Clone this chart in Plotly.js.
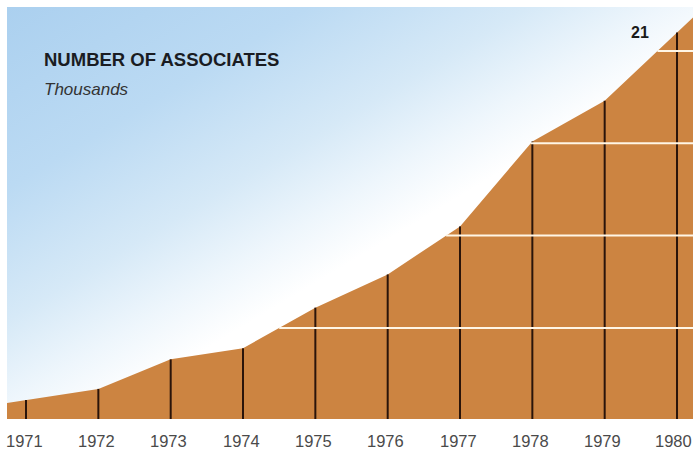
<!DOCTYPE html>
<html>
<head>
<meta charset="utf-8">
<script src="https://cdn.plot.ly/plotly-3.0.1.min.js"></script>
<style>
  html, body { margin: 0; padding: 0; background: #ffffff; }
  #wrap { position: relative; width: 693px; height: 451px; overflow: hidden; }
  #bg { position: absolute; left: 7px; top: 7px; width: 686px; height: 412px;
        background: linear-gradient(to bottom right, #abd0ef 0%, #bbdaf3 22%, #d6e9f7 38%, #eef6fc 48%, #ffffff 56%, #ffffff 100%); }
  #chart { position: absolute; left: 0; top: 0; width: 693px; height: 451px; }
</style>
</head>
<body>
<div id="wrap"><div id="bg"></div><div id="chart"></div></div>
<script>
// ---- data ----
const years = [1971, 1972, 1973, 1974, 1975, 1976, 1977, 1978, 1979, 1980];
const associates = [1.1, 1.7, 3.3, 3.9, 6.1, 7.9, 10.5, 15.1, 17.3, 21];
const tickLabels = ["1971", "1972", "1973", "1974", "1975", "1976", "1977", "1978", "1979", "1980"];
const gridLevels = [5, 10, 15, 20];
const titleText = "NUMBER OF ASSOCIATES";
const unitText = "Thousands";

// ---- layout constants ----
const xMin = 1970.737, xMax = 1980.221;
const yMin = 0.07, yMax = 22.38;
const FONT = 'Liberation Sans, Arial, sans-serif';

// extend the outline linearly to the plot edges
const n = years.length;
const slopeL = (associates[1] - associates[0]) / (years[1] - years[0]);
const slopeR = (associates[n-1] - associates[n-2]) / (years[n-1] - years[n-2]);
const areaX = [xMin].concat(years, [xMax]);
const areaY = [associates[0] - slopeL * (years[0] - xMin)].concat(associates, [associates[n-1] + slopeR * (xMax - years[n-1])]);

// crossing of each grid level with the outline
function crossX(level) {
  for (let i = 0; i < areaX.length - 1; i++) {
    const y0 = areaY[i], y1 = areaY[i+1];
    if (y0 <= level && y1 >= level) {
      return areaX[i] + (level - y0) / (y1 - y0) * (areaX[i+1] - areaX[i]);
    }
  }
  return xMax;
}
const gx = [], gy = [];
gridLevels.forEach(l => { gx.push(crossX(l), xMax, null); gy.push(l, l, null); });

const vx = [], vy = [];
years.forEach((yr, i) => { vx.push(yr, yr, null); vy.push(0, associates[i], null); });

const traces = [
  { x: areaX, y: areaY, type: 'scatter', mode: 'lines', fill: 'tozeroy',
    fillcolor: '#cc8441', line: { width: 0, color: '#cc8441' }, hoverinfo: 'skip' },
  { x: vx, y: vy, type: 'scatter', mode: 'lines',
    line: { width: 2, color: '#2a140a' }, hoverinfo: 'skip' },
  { x: gx, y: gy, type: 'scatter', mode: 'lines',
    line: { width: 2, color: '#fff6e6' }, hoverinfo: 'skip' }
];

// year labels as annotations (last one kept inside the right edge)
const yearAnns = years.map((yr, i) => {
  const last = i === n - 1;
  return {
    xref: last ? 'paper' : 'x', yref: 'paper',
    x: last ? 1 : yr, y: 0,
    xanchor: last ? 'right' : 'center', yanchor: 'bottom',
    xshift: last ? 0 : -2, yshift: -31.5, borderpad: 0,
    text: tickLabels[i], showarrow: false,
    font: { size: 16.5, color: '#4a4a4a', family: FONT }
  };
});

const layout = {
  width: 693, height: 451,
  margin: { l: 7, r: 0, t: 7, b: 32 },
  paper_bgcolor: 'rgba(0,0,0,0)',
  plot_bgcolor: 'rgba(0,0,0,0)',
  showlegend: false,
  font: { family: FONT },
  xaxis: {
    range: [xMin, xMax], showgrid: false, zeroline: false, showline: false,
    showticklabels: false, ticks: '', fixedrange: true
  },
  yaxis: {
    range: [yMin, yMax], showgrid: false, zeroline: false, showline: false,
    showticklabels: false, ticks: '', fixedrange: true
  },
  annotations: [
    { xref: 'paper', yref: 'paper', x: 0.051, y: 0.872, xanchor: 'left', yanchor: 'middle',
      text: '<b>' + titleText + '</b>', showarrow: false,
      font: { size: 18.5, color: '#1a1c22', family: FONT } },
    { xref: 'paper', yref: 'paper', x: 0.051, y: 0.8, xanchor: 'left', yanchor: 'middle',
      text: '<i>' + unitText + '</i>', showarrow: false,
      font: { size: 17, color: '#333333', family: FONT } },
    { x: years[n-1], y: associates[n-1], xref: 'x', yref: 'y', xanchor: 'center', yanchor: 'middle',
      xshift: -37, yshift: 0,
      text: '<b>' + String(associates[n-1]) + '</b>', showarrow: false,
      font: { size: 16, color: '#1a1a1a', family: FONT } }
  ].concat(yearAnns)
};

Plotly.newPlot('chart', traces, layout, { staticPlot: true, displayModeBar: false });
</script>
</body>
</html>
